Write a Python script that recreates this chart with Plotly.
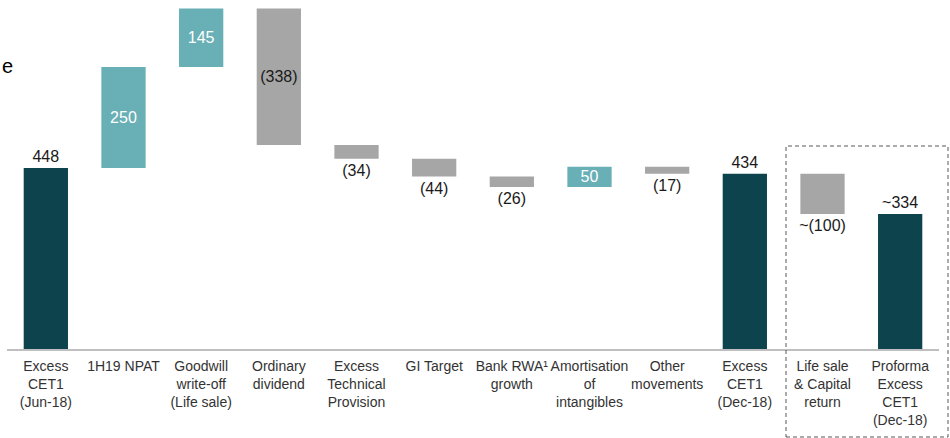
import plotly.graph_objects as go

# Excess CET1 bridge, Jun-18 to Proforma Dec-18 ($m)
categories = [
    "Excess<br>CET1<br>(Jun-18)",
    "1H19 NPAT",
    "Goodwill<br>write-off<br>(Life sale)",
    "Ordinary<br>dividend",
    "Excess<br>Technical<br>Provision",
    "GI Target",
    "Bank RWA¹<br>growth",
    "Amortisation<br>of<br>intangibles",
    "Other<br>movements",
    "Excess<br>CET1<br>(Dec-18)",
    "Life sale<br>& Capital<br>return",
    "Proforma<br>Excess<br>CET1<br>(Dec-18)",
]
values = [448, 250, 145, -338, -34, -44, -26, 50, -17, 434, -100, 334]
measures = ["total", "delta", "delta", "delta", "delta", "delta", "delta",
            "delta", "delta", "total", "delta", "total"]
approx = [False] * 10 + [True, True]

DARK = "#0c434d"
UP = "#68afb6"
DOWN = "#a6a6a6"

bases, heights, colors, labels, positions, label_colors = [], [], [], [], [], []
running = 0
for v, m, a in zip(values, measures, approx):
    txt = f"({abs(v)})" if v < 0 else f"{v}"
    if a:
        txt = "~" + txt
    labels.append(txt)
    if m == "total":
        bases.append(0)
        heights.append(v)
        colors.append(DARK)
        positions.append("outside")
        label_colors.append("#1a1a1a")
        running = v
    else:
        bases.append(running)
        heights.append(v)
        running += v
        if v > 0:
            colors.append(UP)
            positions.append("inside")
            label_colors.append("#ffffff")
        else:
            colors.append(DOWN)
            big = abs(v) > 150
            positions.append("inside" if big else "outside")
            label_colors.append("#1a1a1a")

fig = go.Figure(
    go.Bar(
        x=categories,
        y=heights,
        base=bases,
        marker=dict(color=colors, line=dict(width=0)),
        width=0.57,
        text=labels,
        textposition=positions,
        insidetextanchor="middle",
        constraintext="none",
        textfont=dict(family="Liberation Sans, Arial, sans-serif", size=16, color=label_colors),
        cliponaxis=False,
        hoverinfo="skip",
    )
)

fig.update_layout(
    width=950,
    height=438,
    margin=dict(l=7, r=11, t=0, b=89),
    paper_bgcolor="white",
    plot_bgcolor="white",
    showlegend=False,
    font=dict(family="Liberation Sans, Arial, sans-serif", size=14, color="#333333"),
    xaxis=dict(
        type="category",
        range=[-0.5, 11.5],
        showline=True,
        linecolor="#bfbfbf",
        linewidth=2,
        showgrid=False,
        zeroline=False,
        ticks="",
        tickangle=0,
        ticklabelstandoff=3,
        tickfont=dict(size=14, color="#333333"),
        fixedrange=True,
    ),
    yaxis=dict(
        range=[0, 864],
        visible=False,
        showgrid=False,
        zeroline=False,
        fixedrange=True,
    ),
    shapes=[
        dict(
            type="rect",
            xref="paper",
            yref="paper",
            x0=(786 - 7) / 932,
            x1=(948 - 7) / 932,
            y0=(349 - 437) / 349,
            y1=(349 - 146) / 349,
            line=dict(color="#595959", width=1, dash="4px,3px"),
            fillcolor="rgba(0,0,0,0)",
        )
    ],
    annotations=[
        dict(
            text="e",
            xref="paper",
            yref="paper",
            x=-7 / 932,
            y=(349 - 66) / 349,
            xanchor="left",
            yanchor="middle",
            showarrow=False,
            font=dict(size=20, color="#000000"),
        )
    ],
)

fig.write_html("out.html")
